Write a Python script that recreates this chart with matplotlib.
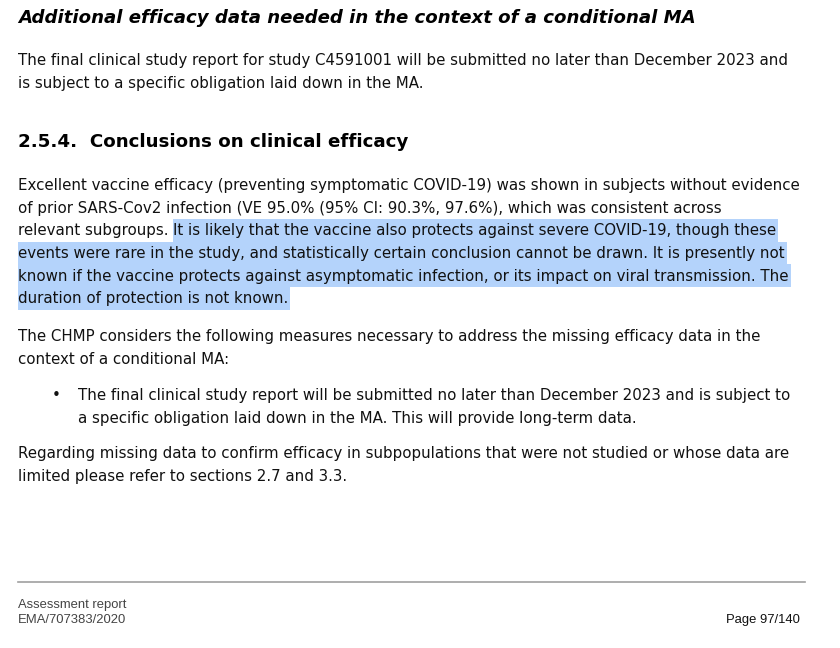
import matplotlib
matplotlib.use("Agg")
import matplotlib.pyplot as plt
from matplotlib.patches import Rectangle
from matplotlib import font_manager

# ---- text content ----
title_text = "Additional efficacy data needed in the context of a conditional MA"
para1_lines = [
    "The final clinical study report for study C4591001 will be submitted no later than December 2023 and",
    "is subject to a specific obligation laid down in the MA.",
]
heading_text = "2.5.4.  Conclusions on clinical efficacy"
# (plain part, highlighted part)
para2_lines = [
    ("Excellent vaccine efficacy (preventing symptomatic COVID-19) was shown in subjects without evidence", ""),
    ("of prior SARS-Cov2 infection (VE 95.0% (95% CI: 90.3%, 97.6%), which was consistent across", ""),
    ("relevant subgroups. ", "It is likely that the vaccine also protects against severe COVID-19, though these"),
    ("", "events were rare in the study, and statistically certain conclusion cannot be drawn. It is presently not"),
    ("", "known if the vaccine protects against asymptomatic infection, or its impact on viral transmission. The"),
    ("", "duration of protection is not known."),
]
para3_lines = [
    "The CHMP considers the following measures necessary to address the missing efficacy data in the",
    "context of a conditional MA:",
]
bullet_lines = [
    "The final clinical study report will be submitted no later than December 2023 and is subject to",
    "a specific obligation laid down in the MA. This will provide long-term data.",
]
para4_lines = [
    "Regarding missing data to confirm efficacy in subpopulations that were not studied or whose data are",
    "limited please refer to sections 2.7 and 3.3.",
]
footer_left = ["Assessment report", "EMA/707383/2020"]
footer_right = "Page 97/140"

W, H = 840, 648
fig = plt.figure(figsize=(W / 100, H / 100), dpi=100)
ax = fig.add_axes([0, 0, 1, 1])
ax.set_xlim(0, W)
ax.set_ylim(H, 0)
ax.axis("off")
fig.patch.set_facecolor("white")
renderer = fig.canvas.get_renderer()

BODY = ["DejaVu Sans"]
TXT = "#111111"
HL = "#b4d3fb"

available = {f.name for f in font_manager.fontManager.ttflist}
FOOT = [f for f in ["DejaVu Sans Condensed", "Liberation Sans Narrow", "Liberation Sans"] if f in available] + ["DejaVu Sans"]


def width_px(t):
    return t.get_window_extent(renderer).width


def fit(text, target, **kw):
    t = ax.text(0, -100, text, **kw)
    fs = t.get_fontsize()
    w = width_px(t)
    t.remove()
    return fs * target / w


LEFT = 18
body_fs = fit(para1_lines[0], 770, family=BODY, fontsize=10)
title_fs = fit(title_text, 679, family=BODY, fontsize=14, fontweight="bold", fontstyle="italic")
head_fs = fit(heading_text, 389, family=BODY, fontsize=12, fontweight="bold")

ax.text(LEFT, 23, title_text, family=BODY, fontsize=title_fs, fontweight="bold",
        fontstyle="italic", color="black", va="baseline")

step = 22.7


def body_lines(lines, y0, x=LEFT):
    for i, s in enumerate(lines):
        ax.text(x, y0 + i * step, s, family=BODY, fontsize=body_fs, color=TXT, va="baseline")


body_lines(para1_lines, 65)
ax.text(LEFT, 147, heading_text, family=BODY, fontsize=head_fs, fontweight="bold",
        color="black", va="baseline")

y0 = 190
for i, (plain, hl) in enumerate(para2_lines):
    y = y0 + i * step
    x = LEFT
    if plain:
        t = ax.text(x, y, plain, family=BODY, fontsize=body_fs, color=TXT, va="baseline")
        x += width_px(t)
    if hl:
        t = ax.text(x, y, hl, family=BODY, fontsize=body_fs, color=TXT, va="baseline", zorder=3)
        w = width_px(t)
        ax.add_patch(Rectangle((x, y - 16.5), w + 2, step, facecolor=HL, edgecolor="none", zorder=1))

body_lines(para3_lines, 341)
ax.text(52, 400, "\u2022", family=BODY, fontsize=body_fs, color=TXT, va="baseline")
body_lines(bullet_lines, 400, x=78)
body_lines(para4_lines, 458)

ax.plot([LEFT, 805], [582, 582], color="#a0a0a0", lw=1.2)

foot_fs = fit(footer_left[0], 109, family=FOOT, fontsize=8)
ax.text(LEFT, 608, footer_left[0], family=FOOT, fontsize=foot_fs, color="#444444", va="baseline")
ax.text(LEFT, 623, footer_left[1], family=FOOT, fontsize=foot_fs, color="#444444", va="baseline")
ax.text(800, 623, footer_right, family=FOOT, fontsize=foot_fs, color="#111111", va="baseline", ha="right")

fig.savefig("out.png", dpi=100, facecolor="white")
